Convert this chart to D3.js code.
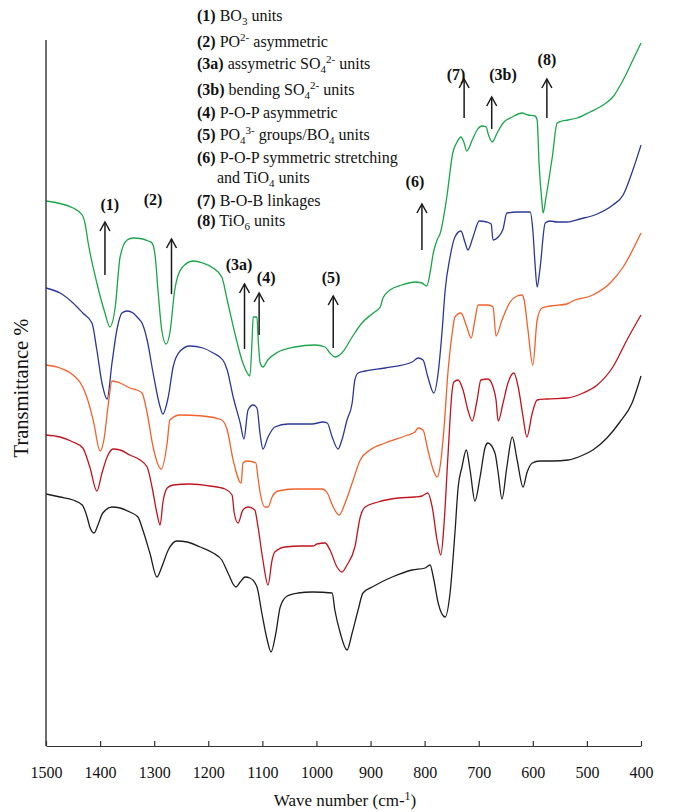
<!DOCTYPE html>
<html>
<head>
<meta charset="utf-8">
<script src="https://cdn.jsdelivr.net/npm/d3@7"></script>
<style>
  body { margin: 0; background: #fff; }
  text { font-family: "Liberation Serif", "Times New Roman", serif; fill: #111; }
</style>
</head>
<body>
<svg id="chart" width="673" height="812"></svg>
<script>
// FTIR transmittance spectra of five glass samples, [wave number (cm-1), transmittance]
const waveTicks = [1500, 1400, 1300, 1200, 1100, 1000, 900, 800, 700, 600, 500, 400];

const spectrumGreen = [[1500,54.5],[1450,53.8],[1433,53.1],[1428,52.3],[1422,50.3],[1406,46.3],[1391,43.3],[1382,41.9],[1372,43.9],[1363,48.9],[1350,50.6],[1339,50.8],[1321,50.7],[1311,50.5],[1304,50.3],[1298,48.9],[1293,45.6],[1286,41.6],[1278,40.2],[1271,41.3],[1262,45.6],[1249,47.8],[1228,48.5],[1210,48.3],[1191,47.8],[1175,46.9],[1165,44.6],[1151,41.3],[1136,38.3],[1123,37.0],[1119,40.6],[1117,42.9],[1110,42.9],[1108,40.9],[1104,38.3],[1099,37.9],[1090,38.6],[1071,39.4],[1040,39.9],[1003,40.1],[984,39.9],[975,39.3],[966,38.9],[953,39.3],[934,40.9],[916,42.3],[895,43.3],[882,43.9],[877,44.8],[864,45.6],[842,46.1],[818,46.4],[805,46.3],[796,46.0],[790,47.3],[784,49.3],[777,50.6],[771,51.3],[759,54.9],[748,59.3],[740,60.4],[733,60.9],[727,60.3],[722,59.5],[712,60.6],[703,61.6],[694,62.0],[686,61.9],[683,61.3],[675,60.4],[666,61.3],[655,62.3],[638,62.9],[620,63.3],[609,63.1],[596,63.0],[592,62.6],[588.5,58.3],[583,54.3],[581,53.3],[575.5,54.9],[564,58.9],[555,62.3],[546,62.5],[535,62.6],[518,62.8],[494,63.4],[470,64.1],[452,64.9],[433,66.6],[415,68.6],[400,70.3]];

const spectrumBlue = [[1500,45.8],[1474,45.3],[1450,44.3],[1432,43.3],[1415,42.3],[1406,39.6],[1396.5,36.3],[1387,34.7],[1378,38.3],[1369,41.6],[1359.5,43.3],[1350,43.5],[1339,43.3],[1330,42.8],[1322.5,42.3],[1313,40.6],[1302,37.3],[1289,33.9],[1284,33.2],[1274,34.9],[1265,37.9],[1252,39.5],[1234,40.0],[1210,39.8],[1191,39.3],[1173,38.6],[1165,37.6],[1154,34.9],[1141,32.3],[1134,30.7],[1126.5,33.6],[1117,34.1],[1110,33.8],[1104,31.1],[1099,29.7],[1089.5,30.9],[1077,31.9],[1052.5,32.2],[1008,32.2],[988,32.4],[980,32.3],[971,30.9],[960,29.7],[953,30.6],[943.5,32.6],[934,34.3],[929,36.6],[923,37.3],[910,37.5],[873,37.8],[823,38.4],[812,38.8],[803,38.6],[794,36.9],[783,35.3],[775,37.3],[768,41.3],[762,45.6],[753,48.9],[744,50.9],[733,51.5],[725,50.3],[720,49.6],[710.5,50.9],[699,52.5],[685,52.4],[677,52.2],[673.5,50.6],[664,50.9],[655,51.7],[648,53.3],[629,53.4],[605,53.4],[600,51.6],[596,48.3],[592,45.9],[587,47.6],[577,52.3],[568,52.5],[555,52.4],[537,52.4],[513,52.7],[481,53.2],[452,54.1],[433,55.1],[415,57.6],[400,60.1]];

const spectrumOrange = [[1500,38.1],[1474,37.8],[1450,37.1],[1432,35.9],[1419,33.9],[1409,31.6],[1406,30.6],[1400,29.5],[1393,30.6],[1385,34.1],[1378,36.5],[1363,36.3],[1345,35.8],[1332,35.6],[1322.5,35.3],[1313,33.3],[1302,29.9],[1287,27.7],[1276,30.3],[1271,32.6],[1252,33.1],[1210,33.0],[1175,32.6],[1165,31.6],[1154,28.6],[1139,26.3],[1136,28.3],[1128,28.5],[1112,28.3],[1108,26.8],[1104,25.3],[1095,23.9],[1089.5,23.9],[1082,24.9],[1071,25.5],[1040,25.7],[990,25.7],[980,25.3],[969,23.9],[958,23.1],[947,24.3],[934,26.3],[919,28.6],[901,29.6],[873,30.3],[831,31.1],[818,31.4],[812,31.8],[803,31.6],[794,29.6],[784,27.6],[777,26.9],[771.5,27.9],[764,31.9],[757,37.3],[749,41.3],[744,42.9],[733,43.3],[722,41.9],[714,40.8],[707,42.6],[701,44.1],[683,44.1],[673.5,43.9],[668,41.0],[657,42.6],[642,44.4],[629,45.0],[620,45.1],[616,44.6],[609,41.6],[600,38.1],[592,42.6],[583,43.8],[568,44.0],[537,44.2],[526,44.5],[489,45.1],[457,46.3],[433,47.9],[400,51.3]];

const spectrumRed = [[1500,31.1],[1474,30.9],[1450,30.4],[1432,29.8],[1419,27.9],[1406,25.5],[1396.5,27.3],[1387,28.9],[1376,29.7],[1363,29.6],[1345,29.1],[1326,28.6],[1313,27.9],[1304,25.9],[1295,23.3],[1289,22.1],[1284,24.3],[1276,25.8],[1265,26.1],[1234,26.2],[1197,26.0],[1169,25.7],[1156,25.1],[1152,23.3],[1145,22.3],[1136,23.6],[1126.5,23.9],[1114,23.6],[1108,21.9],[1099,18.6],[1089.5,16.1],[1082,18.6],[1077,19.4],[1058,19.9],[1027,20.0],[1006,20.0],[999,20.2],[984,20.3],[975,19.6],[962,17.9],[953,17.4],[943.5,18.1],[929,19.9],[919,22.9],[910,23.9],[886,24.4],[849,24.8],[818,24.9],[805,25.0],[794,25.3],[786,23.9],[777,20.6],[770,19.1],[764,22.3],[757,28.9],[749,35.6],[746,36.4],[738,36.6],[729,35.6],[720,33.6],[712,32.5],[703,34.6],[696,36.6],[683,36.7],[673.5,35.9],[668,34.6],[664,32.5],[655,34.3],[646,36.3],[635,37.3],[627,35.9],[618,32.9],[611,30.9],[601,33.3],[592,34.6],[574,34.7],[537,34.8],[507,35.3],[481,36.1],[452,37.9],[426,40.6],[400,43.1]];

const spectrumBlack = [[1500,25.2],[1474,24.9],[1450,24.6],[1433,24.1],[1424,22.9],[1419,21.9],[1411,21.3],[1404,22.1],[1395,23.3],[1378,23.9],[1363,23.8],[1345,23.4],[1330,22.9],[1321,21.6],[1308,19.3],[1295,16.9],[1286,17.9],[1274,19.6],[1258,20.5],[1239,20.4],[1215,19.9],[1191,19.3],[1175,18.6],[1163.5,17.3],[1149,15.9],[1141,16.4],[1132,16.9],[1123,16.8],[1110,15.9],[1101,13.3],[1091,10.6],[1084,9.4],[1075,11.3],[1067,13.9],[1054,15.0],[1034,15.3],[1008,15.4],[971,15.3],[966,13.6],[956,11.3],[943.5,9.6],[934,11.3],[923,13.6],[914,15.3],[897,15.9],[860,16.9],[823,17.6],[799,17.8],[790,18.1],[784,16.9],[775,14.3],[762,12.9],[753,15.3],[744,21.3],[738,25.9],[731,27.9],[723,29.6],[716,27.6],[707,24.5],[697.5,26.9],[688,29.9],[683,30.3],[670,29.3],[664,27.3],[657,24.7],[648,27.9],[638,30.9],[629,28.6],[618,25.9],[611,27.3],[601,28.3],[587,28.5],[563,28.5],[535,28.6],[507,29.1],[489,29.6],[463,30.8],[439,32.4],[416.5,34.3],[400,37.0]];

// Band assignments: label, arrow wave number, arrow base / tip transmittance, label anchor
const bandLabels = ["(1)", "(2)", "(3a)", "(4)", "(5)", "(6)", "(7)", "(3b)", "(8)"];
const bandWave   = [1391, 1268, 1133, 1106, 969, 805, 727, 676, 574];
const bandBaseT  = [47.1, 45.2, 39.7, 41.1, 39.8, 49.6, 62.8, 61.7, 62.8];
const bandTipT   = [52.4, 50.7, 46.2, 45.3, 45.0, 54.2, 66.7, 64.9, 66.7];
const labelWave  = [1382, 1302, 1143, 1093, 973, 818, 742, 655, 574];
const labelT     = [54.1, 54.6, 48.1, 46.8, 46.8, 56.4, 67.1, 67.1, 68.6];

// Key to the bands: [text, kind] with kind b = bold, sub, sup, "" = plain
const noteLines = [
  [["(1)","b"],[" BO",""],["3","sub"],[" units",""]],
  [["(2)","b"],[" PO",""],["2-","sup"],[" asymmetric",""]],
  [["(3a)","b"],[" assymetric SO",""],["4","sub"],["2-","sup"],[" units",""]],
  [["(3b)","b"],[" bending SO",""],["4","sub"],["2-","sup"],[" units",""]],
  [["(4)","b"],[" P-O-P asymmetric",""]],
  [["(5)","b"],[" PO",""],["4","sub"],["3-","sup"],[" groups/BO",""],["4","sub"],[" units",""]],
  [["(6)","b"],[" P-O-P symmetric stretching",""]],
  [["and TiO",""],["4","sub"],[" units",""]],
  [["(7)","b"],[" B-O-B linkages",""]],
  [["(8)","b"],[" TiO",""],["6","sub"],[" units",""]]
];

// ---- drawing ----
const serif = "'Liberation Serif', 'Times New Roman', serif";
const svg = d3.select("#chart");
const plot = { left: 46, right: 641, top: 40, bottom: 746 };

const x = d3.scaleLinear().domain([1500, 400]).range([plot.left, plot.right]);
const y = d3.scaleLinear().domain([0, 70.6]).range([plot.bottom, plot.top]);

const series = [
  { values: spectrumGreen,  color: "#1aa64b" },
  { values: spectrumBlue,   color: "#2b3896" },
  { values: spectrumOrange, color: "#f4602a" },
  { values: spectrumRed,    color: "#c0141e" },
  { values: spectrumBlack,  color: "#1e1e1e" }
];

const line = d3.line()
  .x(d => x(d[0]))
  .y(d => y(d[1]))
  .curve(d3.curveMonotoneX);

svg.append("g")
  .selectAll("path")
  .data(series)
  .join("path")
  .attr("d", d => line(d.values))
  .attr("fill", "none")
  .attr("stroke", d => d.color)
  .attr("stroke-width", 1.3)
  .attr("stroke-linejoin", "round");

// Axes
const xAxis = d3.axisBottom(x)
  .tickValues(waveTicks)
  .tickFormat(d3.format("d"))
  .tickSize(-5)
  .tickSizeOuter(0)
  .tickPadding(21);

const gx = svg.append("g")
  .attr("transform", `translate(0,${plot.bottom})`)
  .call(xAxis)
  .attr("font-family", serif);
gx.select(".domain").attr("stroke", "#333").attr("stroke-width", 1.2);
gx.selectAll(".tick line").attr("stroke", "#333").attr("stroke-width", 1.2);
gx.selectAll(".tick text")
  .style("font-family", serif)
  .attr("font-size", 16)
  .attr("fill", "#111");

svg.append("line")
  .attr("x1", plot.left).attr("x2", plot.left)
  .attr("y1", plot.top).attr("y2", plot.bottom)
  .attr("stroke", "#333").attr("stroke-width", 1.4);

// Axis titles
const xTitle = svg.append("text")
  .attr("x", 345).attr("y", 806)
  .attr("text-anchor", "middle")
  .style("font-family", serif)
  .attr("font-size", 17);
xTitle.append("tspan").text("Wave number (cm-");
xTitle.append("tspan").attr("font-size", 12).attr("dy", -6).text("1");
xTitle.append("tspan").attr("dy", 6).text(")");

svg.append("text")
  .attr("transform", "translate(28,388) rotate(-90)")
  .attr("text-anchor", "middle")
  .style("font-family", serif)
  .attr("font-size", 20.5)
  .text("Transmittance %");

// Band arrows
const arrows = svg.append("g").attr("stroke", "#1a1a1a").attr("stroke-width", 1.5).attr("fill", "none");
bandWave.forEach((w, i) => {
  const ax = x(w), yb = y(bandBaseT[i]), yt = y(bandTipT[i]);
  arrows.append("line").attr("x1", ax).attr("x2", ax).attr("y1", yb).attr("y2", yt);
  arrows.append("path").attr("d", `M${ax - 5},${yt + 9}L${ax},${yt}L${ax + 5},${yt + 9}`);
});

svg.append("g")
  .selectAll("text")
  .data(bandLabels)
  .join("text")
  .attr("x", (d, i) => x(labelWave[i]))
  .attr("y", (d, i) => y(labelT[i]) + 5)
  .attr("text-anchor", "middle")
  .style("font-family", serif)
  .attr("font-size", 16)
  .attr("font-weight", "bold")
  .text(d => d);

// Key text block
const noteX = 197, noteIndentX = 217;
const noteBaselines = [21, 47, 69, 95, 118, 140, 163, 183, 206, 226];
const shift = { "": 0, b: 0, sub: 4, sup: -6 };
noteLines.forEach((segs, i) => {
  const t = svg.append("text")
    .attr("x", i === 7 ? noteIndentX : noteX)
    .attr("y", noteBaselines[i])
    .style("font-family", serif)
    .attr("font-size", 16);
  let cur = 0;
  segs.forEach(([txt, kind]) => {
    const target = shift[kind];
    const ts = t.append("tspan").text(txt).attr("dy", target - cur);
    cur = target;
    if (kind === "b") ts.attr("font-weight", "bold");
    if (kind === "sub" || kind === "sup") ts.attr("font-size", 11);
  });
});
</script>
</body>
</html>
